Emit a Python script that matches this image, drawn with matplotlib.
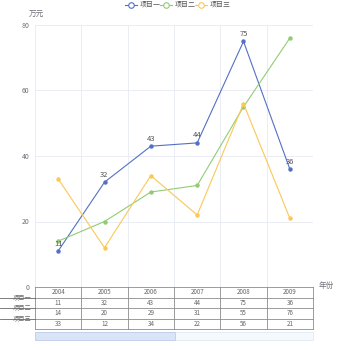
import numpy as np
import matplotlib
matplotlib.use("Agg")
import matplotlib.pyplot as plt
from matplotlib.lines import Line2D
from matplotlib.patches import Rectangle

plt.rcParams['font.family'] = ['Noto Sans CJK SC', 'DejaVu Sans']

# * data
years = ['2004', '2005', '2006', '2007', '2008', '2009']
series_names = ['项目一', '项目二', '项目三']
s1 = [11, 32, 43, 44, 75, 36]
s2 = [14, 20, 29, 31, 55, 76]
s3 = [33, 12, 34, 22, 56, 21]
y_ticks = [0, 20, 40, 60, 80]
colors = ['#5470c6', '#91cc75', '#fac858']

W = H = 350
fig = plt.figure(figsize=(3.5, 3.5), dpi=100)

# plot area in pixel coords
L, R, T, B = 35, 313, 25, 287
ax = fig.add_axes([L / W, 1 - B / H, (R - L) / W, (B - T) / H])
x = np.arange(len(years))
for vals, c in zip([s1, s2, s3], colors):
    ax.plot(x, vals, color=c, lw=0.8, marker='o', ms=2.2, mfc=c, mec=c)
for xi, v in zip(x, s1):
    ax.annotate(str(v), (xi, v), xytext=(0, 2.5), textcoords='offset points',
                ha='center', va='bottom', fontsize=5.5, color='#555555')
ax.set_xlim(-0.5, len(years) - 0.5)
ax.set_ylim(0, 80)
for gx in np.arange(-0.5, len(years), 1):
    ax.axvline(gx, color='#e6eaf2', lw=0.6, zorder=0)
for gy in y_ticks[1:]:
    ax.axhline(gy, color='#e6eaf2', lw=0.6, zorder=0)
ax.set_xticks([])
ax.set_yticks(y_ticks)
ax.set_yticklabels([str(t) for t in y_ticks], fontsize=5, color='#6e7079')
ax.tick_params(axis='y', length=0, pad=4)
for sp in ax.spines.values():
    sp.set_visible(False)

# overlay for table, legend, slider
ov = fig.add_axes([0, 0, 1, 1], zorder=5)
ov.set_xlim(0, W)
ov.set_ylim(H, 0)
ov.axis('off')

ov.text(36, 15, '万元', fontsize=5.5, color='#6e7079', ha='center', va='center')
ov.text(326, 286, '年份', fontsize=5.5, color='#6e7079', ha='center', va='center')

# legend
lx = [125, 160, 195]
for i, (name, c) in enumerate(zip(series_names, colors)):
    x0 = lx[i]
    ov.add_line(Line2D([x0, x0 + 12], [5, 5], color=c, lw=0.8))
    ov.plot(x0 + 6, 5, marker='o', ms=4, mfc='white', mec=c, mew=0.8)
    ov.text(x0 + 15, 5, name, fontsize=5, color='#555555', va='center')

# data table
row_y = [287, 297.5, 308, 318.5, 329]
col_w = (R - L) / len(years)
for yy in row_y:
    ov.add_line(Line2D([L, R], [yy, yy], color='#8c8c8c', lw=0.6))
for k in range(len(years) + 1):
    ov.add_line(Line2D([L + k * col_w] * 2, [row_y[0], row_y[-1]], color='#8c8c8c', lw=0.6))
rows = [years, s1, s2, s3]
for r, vals in enumerate(rows):
    yc = (row_y[r] + row_y[r + 1]) / 2
    for k, v in enumerate(vals):
        ov.text(L + (k + 0.5) * col_w, yc, str(v), fontsize=4.5, color='#666666',
                ha='center', va='center')
for r, name in enumerate(series_names):
    yy = row_y[r + 1]
    ov.add_line(Line2D([0, L], [yy, yy], color='#666666', lw=0.6))
    ov.text(22, yy - 0.5, name, fontsize=4.5, color='#666666', ha='center', va='center')

# slider
ov.add_patch(Rectangle((L, 332), R - L, 8, facecolor='#f5f8fd', edgecolor='#dfe6f3', lw=0.5))
ov.add_patch(Rectangle((L, 332), 140, 8, facecolor='#d9e4f7', edgecolor='#b8c8ea', lw=0.5))

fig.savefig('out.png', dpi=100)
